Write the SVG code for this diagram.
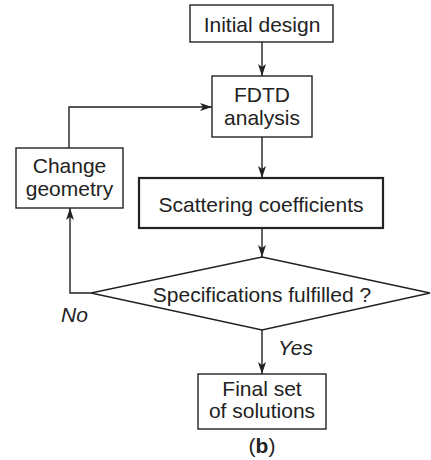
<svg xmlns="http://www.w3.org/2000/svg" width="431" height="460" viewBox="0 0 431 460">
  <style>
    .box { fill: #ffffff; stroke: #222; stroke-width: 1.4; }
    .thick { stroke-width: 2.2; }
    .lbl { font-family: "Liberation Sans", Arial, sans-serif; font-size: 21px; fill: #222; text-anchor: middle; }
    .it { font-style: italic; text-anchor: start; }
    .conn { fill: none; stroke: #222; stroke-width: 1.4; }
  </style>
  <defs>
    <marker id="arrow" viewBox="0 0 12 8" refX="12" refY="4" markerWidth="12" markerHeight="8" markerUnits="userSpaceOnUse" orient="auto">
      <path d="M0,0 L12,4 L0,8 L3,4 Z" fill="#222"/>
    </marker>
  </defs>
  <rect width="431" height="460" fill="#ffffff"/>

  <g id="connectors">
    <line class="conn" x1="262" y1="42" x2="262" y2="76" marker-end="url(#arrow)"/>
    <line class="conn" x1="262" y1="137" x2="262" y2="178" marker-end="url(#arrow)"/>
    <line class="conn" x1="262" y1="228" x2="262" y2="257" marker-end="url(#arrow)"/>
    <line class="conn" x1="262" y1="330" x2="262" y2="374" marker-end="url(#arrow)"/>
    <polyline class="conn" points="91,293 70,293 70,208" marker-end="url(#arrow)"/>
    <polyline class="conn" points="69,148 69,107 212,107" marker-end="url(#arrow)"/>
  </g>

  <g id="initial-design">
    <rect class="box" x="190" y="5" width="143" height="37"/>
    <text class="lbl" x="262" y="32">Initial design</text>
  </g>

  <g id="fdtd-analysis">
    <rect class="box" x="212" y="76" width="100" height="61"/>
    <text class="lbl" x="262" y="102">FDTD</text>
    <text class="lbl" x="262" y="125">analysis</text>
  </g>

  <g id="change-geometry">
    <rect class="box" x="16" y="148" width="107" height="60"/>
    <text class="lbl" x="69.5" y="173">Change</text>
    <text class="lbl" x="69.5" y="196">geometry</text>
  </g>

  <g id="scattering-coefficients">
    <rect class="box thick" x="139" y="178" width="244" height="50"/>
    <text class="lbl" x="261" y="212">Scattering coefficients</text>
  </g>

  <g id="specifications-check">
    <polygon class="box" points="262,257 430,293 262,330 91,293"/>
    <text class="lbl" x="262" y="302">Specifications fulfilled ?</text>
    <text class="lbl it" x="61" y="322">No</text>
    <text class="lbl it" x="278" y="355">Yes</text>
  </g>

  <g id="final-solutions">
    <rect class="box" x="198" y="374" width="128" height="55"/>
    <text class="lbl" x="262" y="396">Final set</text>
    <text class="lbl" x="262" y="418">of solutions</text>
  </g>

  <text class="lbl" x="262" y="453">(<tspan font-weight="bold">b</tspan>)</text>
</svg>
